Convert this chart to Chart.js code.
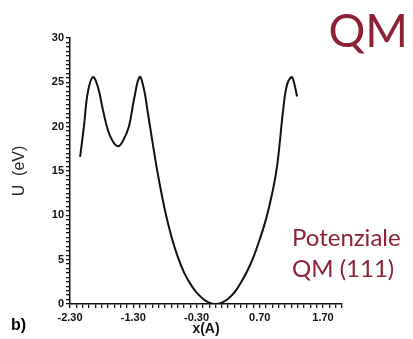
<!DOCTYPE html>
<html>
<head>
<meta charset="utf-8">
<script src="https://cdn.jsdelivr.net/npm/chart.js@4"></script>
<style>
  body { margin: 0; background: #fff; }
  #wrap { position: relative; width: 413px; height: 339px; }
  .red { position: absolute; color: #8c2138; font-family: Lato, "Open Sans", sans-serif; }
</style>
</head>
<body>
<div id="wrap">
  <canvas id="potChart"></canvas>
  <div class="red" style="right:5px; top:4px; font-size:46px; line-height:52px;">QM</div>
  <div class="red" style="left:292px; top:221px; font-size:24px; line-height:31px;">Potenziale<br>QM (111)</div>
  <div style="position:absolute; left:11px; top:316px; font:bold 16px 'Liberation Sans', Arial, sans-serif;">b)</div>
</div>
<script>
// posizione x (Å) e energia potenziale U (eV)
const posX = [-2.14, -2.08, -2.02, -1.94, -1.86, -1.78, -1.70, -1.62, -1.54, -1.47, -1.37, -1.29, -1.20,
              -1.13, -1.07, -0.99, -0.91, -0.80, -0.70, -0.60, -0.50, -0.40, -0.30, -0.20, -0.10, 0.00,
              0.10, 0.20, 0.30, 0.40, 0.50, 0.60, 0.70, 0.80, 0.90, 0.98, 1.07, 1.13, 1.20, 1.23, 1.29]
const energiaU = [16.6, 20.0, 23.8, 25.6, 24.5, 21.9, 19.6, 18.3, 17.8, 18.3, 20.0, 23.0, 25.6,
                  24.2, 21.6, 18.0, 14.6, 10.6, 7.7, 5.4, 3.6, 2.3, 1.3, 0.6, 0.15, 0.0,
                  0.15, 0.6, 1.3, 2.4, 3.7, 5.3, 7.3, 9.6, 12.6, 15.9, 21.9, 24.7, 25.6, 25.3, 23.4]

// etichette degli assi
const xLabels = [-2.30, -1.30, -0.30, 0.70, 1.70]
const yLabels = [0, 5, 10, 15, 20, 25, 30]

const tickFont = { family: "'Liberation Sans', Arial, sans-serif", size: 11, weight: 'bold' }

var ctx = document.getElementById('potChart').getContext('2d');
const potChart = new Chart(ctx, {
    type: 'line',
    data: {
        datasets: [{
            data: posX.map((x, i) => ({ x: x, y: energiaU[i] })),
            borderColor: '#111',
            borderWidth: 2,
            pointRadius: 0,
            tension: 0.4,
            fill: false
        }]
    },
    options: {
        responsive: true,
        maintainAspectRatio: false,
        animation: false,
        layout: { padding: { top: 38, right: 71, left: 0, bottom: 0 } },
        plugins: { legend: { display: false }, tooltip: { enabled: false } },
        scales: {
            x: {
                type: 'linear',
                min: -2.3,
                max: 2.0,
                afterBuildTicks: (scale) => {
                    // tacche minori ogni 0.1
                    const t = []
                    for (let i = 0; i <= 43; i++) t.push({ value: -2.3 + i * 0.1 })
                    scale.ticks = t
                },
                afterFit: (scale) => { scale.height = 35 },
                ticks: {
                    autoSkip: false,
                    maxRotation: 0,
                    padding: 3,
                    color: '#111',
                    font: tickFont,
                    callback: (v) => {
                        const hit = xLabels.find(l => Math.abs(l - v) < 0.001)
                        return hit === undefined ? '' : hit.toFixed(2)
                    }
                },
                grid: { drawOnChartArea: false, drawTicks: true, tickLength: 4, color: '#111', lineWidth: 1.3 },
                border: { color: '#111', width: 1.5 },
                title: {
                    display: true,
                    text: 'x(A)',
                    color: '#111',
                    font: { family: "'Liberation Sans', Arial, sans-serif", size: 14, weight: 'bold', lineHeight: 1.4 },
                    padding: 0
                }
            },
            y: {
                min: 0,
                max: 30,
                afterBuildTicks: (scale) => {
                    const t = []
                    for (let i = 0; i <= 60; i++) t.push({ value: i * 0.5 })
                    scale.ticks = t
                },
                afterFit: (scale) => { scale.width = 70 },
                ticks: {
                    autoSkip: false,
                    padding: 2,
                    color: '#111',
                    font: tickFont,
                    callback: (v) => yLabels.includes(v) ? String(v) : ''
                },
                grid: { drawOnChartArea: false, drawTicks: true, tickLength: 4, color: '#111', lineWidth: 1.3 },
                border: { color: '#111', width: 1.5 },
                title: {
                    display: true,
                    text: 'U  (eV)',
                    color: '#222',
                    font: { family: "'Liberation Sans', Arial, sans-serif", size: 16, lineHeight: 2.5 },
                    padding: 0
                }
            }
        }
    }
});
</script>
</body>
</html>
